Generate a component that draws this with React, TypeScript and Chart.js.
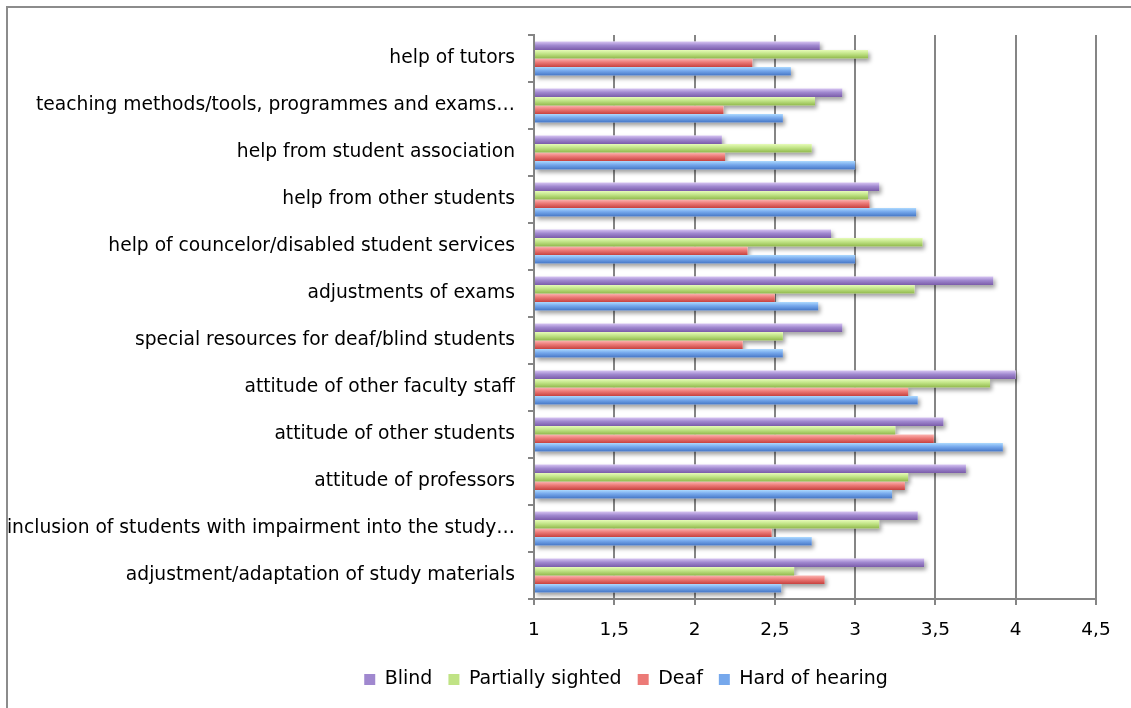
import React, { useEffect, useRef } from 'react';
import { Chart, registerables } from 'chart.js';

Chart.register(...registerables);

const CATEGORIES = [
  'help of tutors',
  'teaching methods/tools, programmes and exams…',
  'help from student association',
  'help from other students',
  'help of councelor/disabled student services',
  'adjustments of exams',
  'special resources for deaf/blind students',
  'attitude of other faculty staff',
  'attitude of other students',
  'attitude of professors',
  'inclusion of students with impairment into the study…',
  'adjustment/adaptation of study materials',
];

const SERIES_NAMES = ['Blind', 'Partially sighted', 'Deaf', 'Hard of hearing'];

const BLIND = [2.78, 2.92, 2.17, 3.15, 2.85, 3.86, 2.92, 4.0, 3.55, 3.69, 3.39, 3.43];
const PARTIALLY_SIGHTED = [3.08, 2.75, 2.73, 3.08, 3.42, 3.37, 2.55, 3.84, 3.25, 3.33, 3.15, 2.62];
const DEAF = [2.36, 2.18, 2.19, 3.09, 2.33, 2.5, 2.3, 3.33, 3.49, 3.31, 2.48, 2.81];
const HARD_OF_HEARING = [2.6, 2.55, 3.0, 3.38, 3.0, 2.77, 2.55, 3.39, 3.92, 3.23, 2.73, 2.54];

const X_TICK_VALUES = [1, 1.5, 2, 2.5, 3, 3.5, 4, 4.5];
const X_TICK_LABELS = ['1', '1,5', '2', '2,5', '3', '3,5', '4', '4,5'];

const PALETTE = [
  { light: '#d6c3f2', mid: '#a088cf', dark: '#7a5ba9' },
  { light: '#e6fbb8', mid: '#c0e385', dark: '#90b84c' },
  { light: '#fcb5b2', mid: '#ec7a77', dark: '#c7423f' },
  { light: '#addaff', mid: '#76a8ec', dark: '#4677c6' },
];

const FONT = 'DejaVu Sans';
const CATEGORY_PCT = 0.72;
const GRID = '#858585';
const LEGEND_SHIFT = 78;

const gradientFor = (si: number) => (ctx: any) => {
  const chart = ctx.chart;
  const p = PALETTE[si];
  const ys = chart.scales && chart.scales.y;
  if (!ys || !(ys.height > 0) || ctx.type !== 'data') return p.mid;
  const band = ys.height / CATEGORIES.length;
  const group = band * CATEGORY_PCT;
  const thick = group / SERIES_NAMES.length;
  const top = ys.getPixelForValue(ctx.dataIndex) - group / 2 + si * thick;
  const g = chart.ctx.createLinearGradient(0, top, 0, top + thick);
  g.addColorStop(0, p.light);
  g.addColorStop(0.45, p.mid);
  g.addColorStop(1, p.dark);
  return g;
};

const shadowPlugin = {
  id: 'barShadow',
  beforeDatasetsDraw(chart: any) {
    const { ctx, chartArea } = chart;
    ctx.save();
    ctx.beginPath();
    ctx.rect(chartArea.left, chartArea.top, chartArea.right - chartArea.left + 12, chartArea.bottom - chartArea.top);
    ctx.clip();
    ctx.shadowColor = 'rgba(0,0,0,0.38)';
    ctx.shadowBlur = 4;
    ctx.shadowOffsetX = 2;
    ctx.shadowOffsetY = 3;
    ctx.fillStyle = '#ffffff';
    chart.data.datasets.forEach((_: any, di: number) => {
      const meta = chart.getDatasetMeta(di);
      meta.data.forEach((el: any) => {
        const { x, y, base, height } = el.getProps(['x', 'y', 'base', 'height'], true);
        const l = Math.min(x, base);
        const w = Math.abs(x - base);
        ctx.fillRect(l, y - height / 2, w, height);
      });
    });
    ctx.restore();
  },
};

const legendShiftPlugin = {
  id: 'legendShift',
  afterLayout(chart: any) {
    const lg = chart.legend;
    if (!lg) return;
    lg.left += LEGEND_SHIFT;
    lg.right += LEGEND_SHIFT;
  },
};

export default function App() {
  const canvasRef = useRef<HTMLCanvasElement | null>(null);

  useEffect(() => {
    if (!canvasRef.current) return;
    const seriesData = [BLIND, PARTIALLY_SIGHTED, DEAF, HARD_OF_HEARING];
    const chart = new Chart(canvasRef.current, {
      type: 'bar',
      data: {
        labels: CATEGORIES,
        datasets: seriesData.map((d, i) => ({
          label: SERIES_NAMES[i],
          data: d,
          base: 1,
          backgroundColor: gradientFor(i),
          borderWidth: 0,
          categoryPercentage: CATEGORY_PCT,
          barPercentage: 1,
        })),
      },
      options: {
        indexAxis: 'y',
        responsive: false,
        animation: false,
        layout: { padding: { top: 35, left: 0, right: 126, bottom: 9 } },
        scales: {
          x: {
            type: 'linear',
            min: 1,
            max: 4.5,
            afterBuildTicks: (s: any) => {
              s.ticks = X_TICK_VALUES.map((v) => ({ value: v }));
            },
            afterFit: (s: any) => {
              s.height = 55;
            },
            ticks: {
              callback: (_v: any, i: number) => X_TICK_LABELS[i],
              color: '#000',
              font: { family: FONT, size: 18.5 },
              padding: 14,
              maxRotation: 0,
            },
            grid: { color: GRID, lineWidth: 2, tickLength: 6, drawTicks: true },
            border: { display: true, color: GRID, width: 2 },
          },
          y: {
            type: 'category',
            offset: true,
            afterFit: (s: any) => {
              s.width = 534;
            },
            ticks: {
              autoSkip: false,
              color: '#000',
              font: { family: FONT, size: 18.7 },
              padding: 13,
            },
            grid: { drawOnChartArea: false, color: GRID, lineWidth: 2, tickLength: 6, offset: true },
            border: { display: true, color: GRID, width: 2 },
          },
        },
        plugins: {
          legend: {
            position: 'bottom',
            labels: {
              boxWidth: 11,
              boxHeight: 11,
              padding: 16,
              color: '#000',
              font: { family: FONT, size: 19 },
              generateLabels: () =>
                SERIES_NAMES.map((name, i) => ({
                  text: name,
                  fillStyle: PALETTE[i].mid,
                  strokeStyle: PALETTE[i].mid,
                  lineWidth: 0,
                  hidden: false,
                  datasetIndex: i,
                  fontColor: '#000',
                })),
            },
          },
          tooltip: { enabled: false },
        },
      },
      plugins: [shadowPlugin, legendShiftPlugin],
    } as any);
    return () => chart.destroy();
  }, []);

  return (
    <div style={{ position: 'absolute', left: 0, top: 0, width: 1131, height: 708, overflow: 'hidden', background: '#fff' }}>
      <div
        style={{
          position: 'absolute',
          left: 6,
          top: 6,
          width: 2000,
          height: 2000,
          borderLeft: '2px solid #8c8c8c',
          borderTop: '2px solid #8c8c8c',
        }}
      />
      <canvas ref={canvasRef} width={1222} height={708} style={{ position: 'absolute', left: 0, top: 0, width: 1222, height: 708 }} />
    </div>
  );
}
